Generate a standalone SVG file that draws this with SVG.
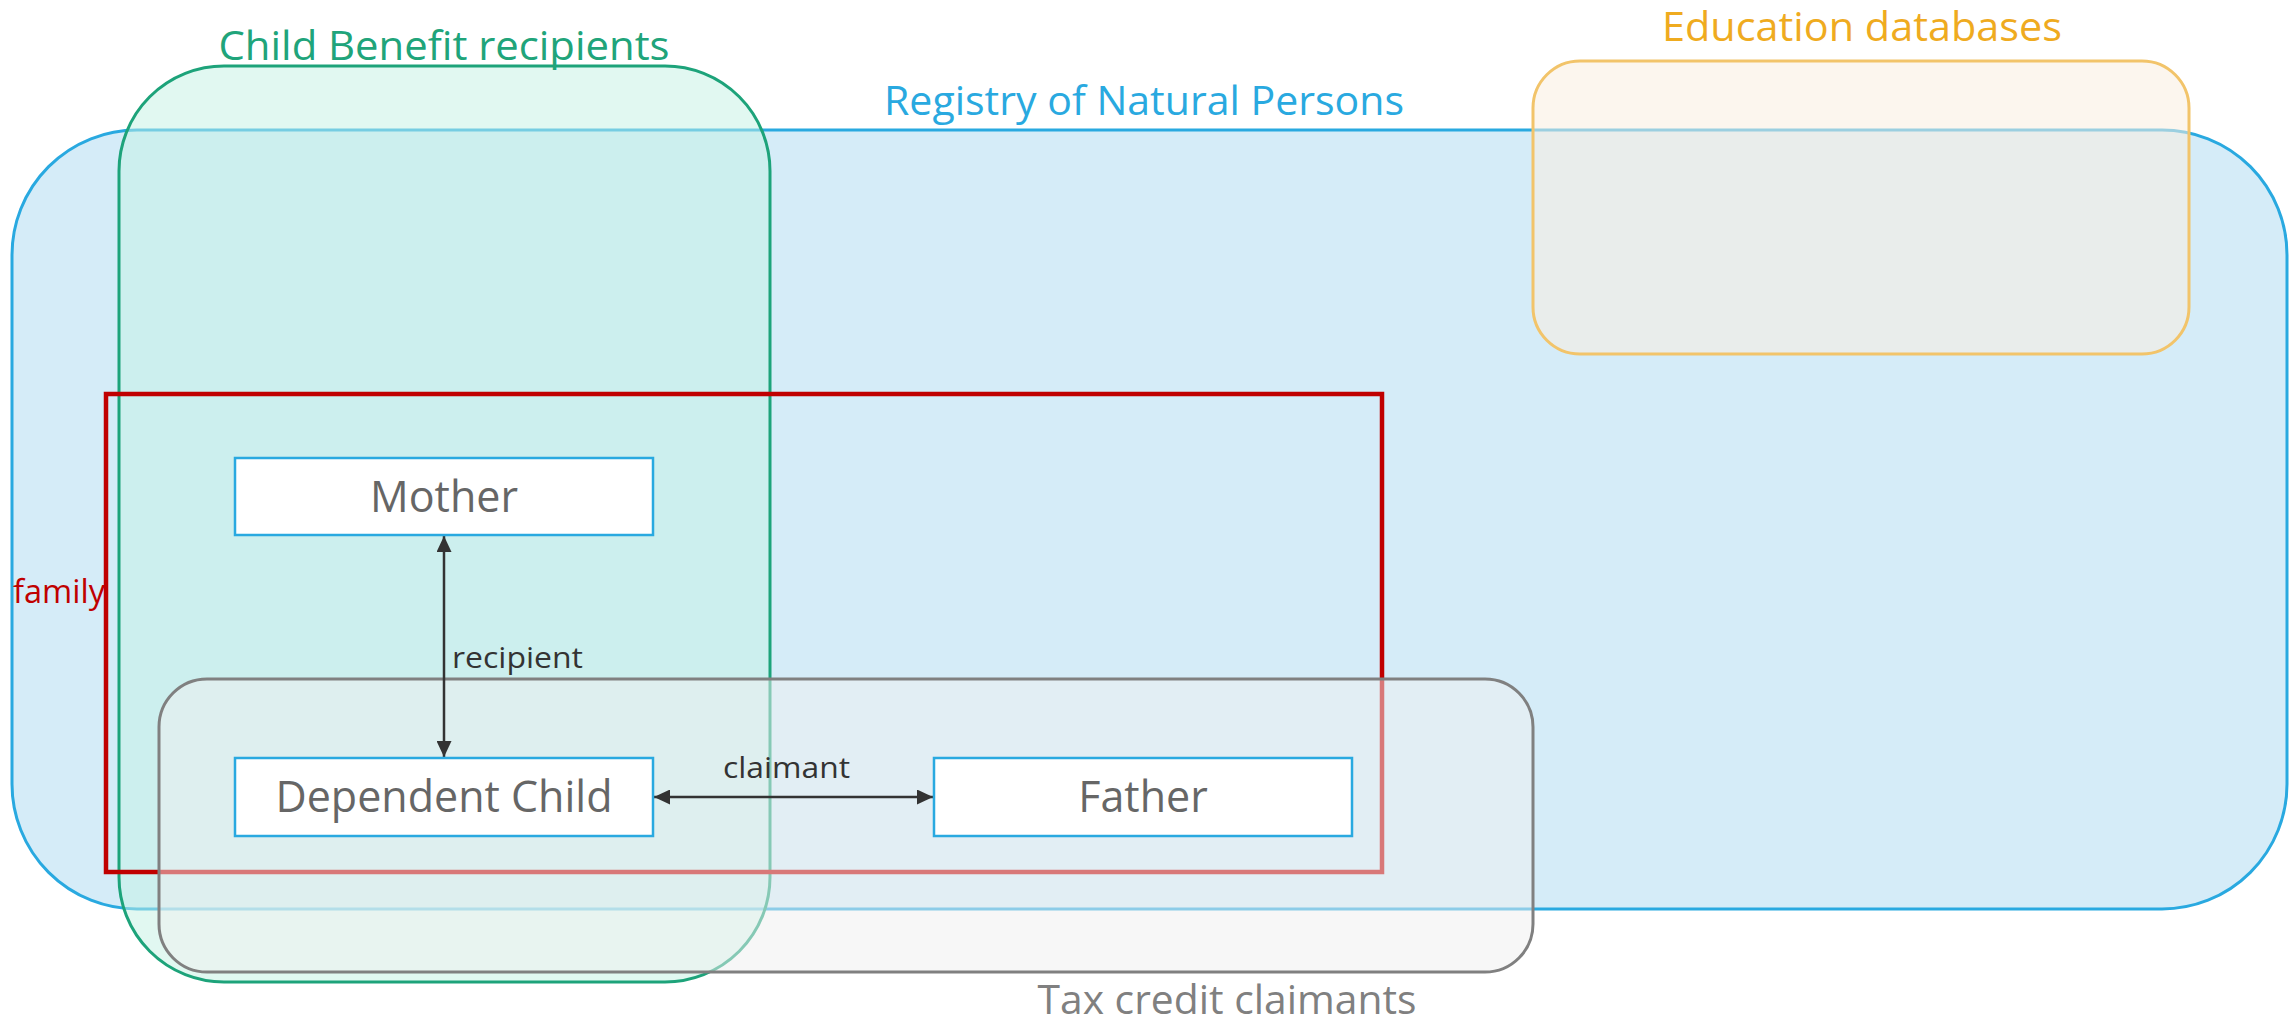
<svg xmlns="http://www.w3.org/2000/svg" width="2295" height="1027" viewBox="0 0 2295 1027">
  <defs>
    <style>
      .lbl { font-family: "Open Sans", "Noto Sans", "Liberation Sans", sans-serif; }
      .set-title { font-size: 41px; text-anchor: middle; }
      .node rect { fill: #ffffff; stroke: #29a9e0; stroke-width: 2.5; }
      .node text { font-size: 43px; fill: #666666; text-anchor: middle; }
      .edge { stroke: #333333; stroke-width: 2.5; fill: none; }
      .edge-label { font-size: 29px; fill: #333333; }
    </style>
    <marker id="arrow" viewBox="0 0 16 15" refX="16" refY="7.5" markerWidth="16" markerHeight="15" markerUnits="userSpaceOnUse" orient="auto-start-reverse">
      <path d="M0,0 L16,7.5 L0,15 Z" fill="#333333"/>
    </marker>
  </defs>

  <rect width="2295" height="1027" fill="#ffffff"/>

  <!-- Registry of Natural Persons -->
  <g id="registry">
    <rect x="12" y="130" width="2275" height="779" rx="125" ry="125" fill="#d5ecf8" stroke="#29a9e0" stroke-width="3"/>
    <text class="lbl set-title" x="1144" y="115" fill="#29a9e0" textLength="520" lengthAdjust="spacingAndGlyphs">Registry of Natural Persons</text>
  </g>

  <!-- Education databases -->
  <g id="education">
    <rect x="1533" y="61" width="656" height="293" rx="47" ry="47" fill="#f9efe0" fill-opacity="0.55" stroke="#f2c46a" stroke-width="3"/>
    <text class="lbl set-title" x="1862" y="41" fill="#efab1f" textLength="400" lengthAdjust="spacingAndGlyphs">Education databases</text>
  </g>

  <!-- Child Benefit recipients -->
  <g id="child-benefit">
    <rect x="119" y="66" width="651" height="916" rx="105" ry="105" fill="#c4f1e3" fill-opacity="0.5" stroke="#1da37a" stroke-width="3"/>
    <text class="lbl set-title" x="444" y="60" font-size="43" fill="#20a47a" textLength="451" lengthAdjust="spacingAndGlyphs">Child Benefit recipients</text>
  </g>

  <!-- family -->
  <g id="family">
    <rect x="106" y="394" width="1276" height="478" fill="none" stroke="#c00000" stroke-width="4.5"/>
    <text class="lbl" x="13" y="603" font-size="33" fill="#c00000" textLength="92" lengthAdjust="spacingAndGlyphs">family</text>
  </g>

  <!-- Tax credit claimants -->
  <g id="tax-credit">
    <rect x="159" y="679" width="1374" height="293" rx="48" ry="48" fill="#efefef" fill-opacity="0.5" stroke="#808080" stroke-width="3"/>
    <text class="lbl set-title" x="1227" y="1014" font-size="43" fill="#808080" textLength="379" lengthAdjust="spacingAndGlyphs">Tax credit claimants</text>
  </g>

  <!-- Connectors -->
  <g id="connectors">
    <line class="edge" x1="444" y1="536" x2="444" y2="757" marker-start="url(#arrow)" marker-end="url(#arrow)"/>
    <text class="lbl edge-label" x="452" y="668" textLength="131" lengthAdjust="spacingAndGlyphs">recipient</text>
    <line class="edge" x1="654" y1="797" x2="933" y2="797" marker-start="url(#arrow)" marker-end="url(#arrow)"/>
    <text class="lbl edge-label" x="723" y="778" textLength="127" lengthAdjust="spacingAndGlyphs">claimant</text>
  </g>

  <!-- Persons -->
  <g id="mother" class="node">
    <rect x="235" y="458" width="418" height="77"/>
    <text class="lbl" x="444" y="512">Mother</text>
  </g>
  <g id="dependent-child" class="node">
    <rect x="235" y="758" width="418" height="78"/>
    <text class="lbl" x="444" y="812">Dependent Child</text>
  </g>
  <g id="father" class="node">
    <rect x="934" y="758" width="418" height="78"/>
    <text class="lbl" x="1143" y="812">Father</text>
  </g>
</svg>
